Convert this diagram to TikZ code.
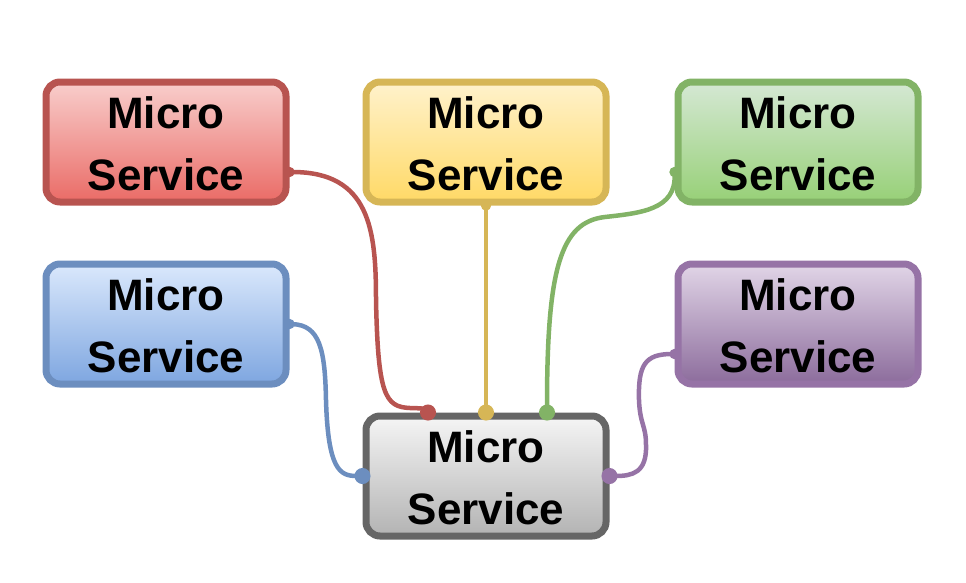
\documentclass[tikz,border=0pt]{standalone}
\usepackage{fontspec}
\setmainfont{Liberation Sans}
\usepackage{tikz}
\usetikzlibrary{arrows.meta}
\definecolor{redline}{HTML}{B85450}
\definecolor{redtop}{HTML}{F8CECC}
\definecolor{redbot}{HTML}{EA6B66}
\definecolor{yellowline}{HTML}{D6B656}
\definecolor{yellowtop}{HTML}{FFF2CC}
\definecolor{yellowbot}{HTML}{FFD966}
\definecolor{greenline}{HTML}{82B366}
\definecolor{greentop}{HTML}{D5E8D4}
\definecolor{greenbot}{HTML}{97D077}
\definecolor{blueline}{HTML}{6C8EBF}
\definecolor{bluetop}{HTML}{DAE8FC}
\definecolor{bluebot}{HTML}{7EA6E0}
\definecolor{purpleline}{HTML}{9673A6}
\definecolor{purpletop}{HTML}{E1D5E7}
\definecolor{purplebot}{HTML}{8C6C9C}
\definecolor{grayline}{HTML}{666666}
\definecolor{graytop}{HTML}{F5F5F5}
\definecolor{graybot}{HTML}{B3B3B3}

\begin{document}
\begin{tikzpicture}[
  x=1pt, y=-1pt,
  box/.style={draw, line width=7pt, rounded corners=14pt, minimum width=240pt,
              minimum height=120pt, inner sep=0pt, align=center, text height=98pt,
              font=\fontsize{44}{62}\selectfont\bfseries},
  redbox/.style={box, draw=redline, top color=redtop, bottom color=redbot},
  yellowbox/.style={box, draw=yellowline, top color=yellowtop, bottom color=yellowbot},
  greenbox/.style={box, draw=greenline, top color=greentop, bottom color=greenbot},
  bluebox/.style={box, draw=blueline, top color=bluetop, bottom color=bluebot},
  purplebox/.style={box, draw=purpleline, top color=purpletop, bottom color=purplebot},
  graybox/.style={box, draw=grayline, top color=graytop, bottom color=graybot},
  link/.style={line width=4.5pt, {Circle[length=10pt]}-{Circle[length=16pt]},
               shorten <=-5pt, shorten >=-8pt}
]
\useasboundingbox (0,0) rectangle (966,582);

\node[redbox] (rs) at (166,142) {Micro\\Service};
\node[yellowbox] (ys) at (486,142) {Micro\\Service};
\node[greenbox] (gs) at (798,142) {Micro\\Service};
\node[bluebox] (bs) at (166,324) {Micro\\Service};
\node[purplebox] (ps) at (798,324) {Micro\\Service};
\node[graybox] (core) at (486,476) {Micro\\Service};

% links into the core service
\draw[link, redline] ([yshift=-30pt]rs.east) .. controls (370,172) and (376,230) .. (376,300)
  .. controls (378,395) and (385,407) .. (410,408)
  .. controls (422,408) and (428,410) .. ([xshift=-58pt]core.north);
\draw[link, yellowline] (ys.south) -- (core.north);
\draw[link, greenline] ([yshift=-30pt]gs.west) .. controls (676,210) and (640,213) .. (605,217)
  .. controls (560,222) and (547,270) .. ([xshift=61pt]core.north);
\draw[link, blueline] (bs.east) .. controls (320,325) and (325,350) .. (326,400)
  .. controls (328,470) and (340,476) .. (core.west);
\draw[link, purpleline] ([yshift=-30pt]ps.west) .. controls (645,354) and (638,365) .. (639,400)
  .. controls (640,425) and (646,425) .. (646,445)
  .. controls (647,473) and (632,476) .. (core.east);

\end{tikzpicture}
\end{document}
